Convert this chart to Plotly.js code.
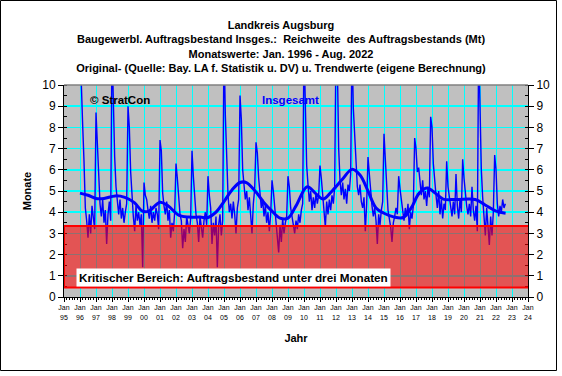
<!DOCTYPE html>
<html><head><meta charset="utf-8">
<script src="https://cdn.plot.ly/plotly-3.0.1.min.js"></script>
<style>html,body{margin:0;padding:0;background:#fff}#chart{width:562px;height:376px}</style>
</head><body><div id="chart"></div>
<script>
// Monthly values (Reichweite in Monaten), Jan 1996 - Aug 2022
const startYear = 1996;
const m1996 = [12.0, 9.6, 8.1, 6.4, 4.2, 3.6, 2.8, 3.9, 3.0, 4.3, 3.8, 3.2];
const m1997 = [8.7, 7.3, 6.0, 4.4, 3.8, 4.6, 3.5, 4.1, 2.5, 3.9, 4.5, 3.6];
const m1998 = [12.0, 9.2, 6.6, 5.2, 4.3, 3.9, 4.6, 3.7, 4.2, 3.5, 4.0, 4.4];
const m1999 = [9.0, 8.0, 5.9, 4.5, 3.8, 3.1, 4.3, 3.6, 4.0, 3.4, 3.9, 1.4];
const m2000 = [5.4, 4.8, 4.6, 4.1, 3.7, 4.3, 3.5, 4.0, 3.6, 4.2, 3.9, 3.2];
const m2001 = [7.4, 6.9, 4.9, 4.3, 3.9, 4.5, 3.6, 4.1, 2.8, 3.5, 3.1, 4.0];
const m2002 = [6.3, 5.6, 4.5, 3.9, 3.6, 2.3, 3.2, 2.6, 3.8, 3.4, 3.0, 3.7];
const m2003 = [6.9, 5.7, 4.6, 3.9, 3.5, 2.6, 3.8, 3.3, 2.8, 3.6, 4.0, 3.4];
const m2004 = [5.7, 4.8, 4.2, 2.5, 3.5, 2.9, 3.8, 1.4, 3.4, 3.9, 2.9, 3.6];
const m2005 = [12.0, 8.6, 6.2, 4.8, 4.0, 4.4, 3.7, 4.5, 3.9, 3.0, 4.2, 4.6];
const m2006 = [9.5, 8.4, 6.0, 5.2, 4.6, 5.0, 4.1, 4.7, 3.8, 3.0, 4.4, 5.1];
const m2007 = [7.3, 6.8, 5.6, 4.8, 4.2, 4.6, 3.8, 4.3, 3.5, 4.0, 3.1, 3.9];
const m2008 = [5.5, 5.0, 4.3, 3.6, 3.1, 2.1, 3.4, 2.6, 3.7, 3.0, 3.5, 3.8];
const m2009 = [5.7, 5.2, 4.2, 3.8, 3.4, 3.0, 3.6, 3.2, 3.9, 3.5, 4.1, 4.4];
const m2010 = [12.0, 9.6, 6.2, 5.3, 4.5, 5.0, 4.1, 4.7, 4.2, 4.9, 4.4, 4.8];
const m2011 = [6.2, 5.6, 4.8, 4.3, 3.3, 4.5, 3.9, 4.6, 4.1, 4.8, 4.4, 5.2];
const m2012 = [12.0, 11.0, 7.0, 5.5, 4.8, 5.4, 4.6, 5.1, 4.4, 5.3, 5.0, 5.8];
const m2013 = [12.0, 8.9, 7.5, 6.0, 5.2, 4.8, 5.3, 4.5, 4.2, 4.7, 3.1, 4.4];
const m2014 = [6.6, 5.8, 4.9, 4.3, 3.8, 4.2, 3.6, 2.5, 3.9, 3.4, 4.1, 4.5];
const m2015 = [7.7, 6.5, 4.8, 4.1, 3.7, 3.3, 2.6, 3.5, 3.8, 4.2, 3.9, 5.7];
const m2016 = [5.1, 4.6, 3.9, 3.6, 4.2, 3.8, 4.4, 3.2, 4.0, 3.7, 4.3, 7.5];
const m2017 = [7.0, 5.9, 6.1, 5.2, 4.8, 5.5, 4.6, 5.0, 4.3, 5.2, 4.7, 8.5];
const m2018 = [8.0, 6.3, 5.4, 4.8, 4.2, 5.0, 3.9, 4.6, 3.7, 4.4, 4.1, 6.4];
const m2019 = [5.2, 4.8, 4.2, 3.8, 4.5, 3.9, 5.8, 4.3, 3.7, 4.6, 4.0, 6.5];
const m2020 = [5.6, 4.9, 4.3, 3.9, 4.4, 3.8, 5.2, 4.1, 3.6, 4.3, 3.1, 12.0];
const m2021 = [8.6, 6.0, 4.7, 3.9, 2.9, 4.2, 3.5, 2.45, 3.8, 2.9, 4.0, 6.7];
const m2022 = [6.0, 4.4, 3.8, 4.3, 4.0, 4.6, 4.2, 4.4];

// Trend values (decimal year, months)
const trendYear = [1996.0, 1996.5, 1997.0, 1997.5, 1998.2, 1998.8, 1999.4, 1999.9, 2000.3, 2001.0,
  2001.5, 2002.2, 2002.8, 2003.5, 2004.0, 2004.5, 2005.0, 2005.5, 2006.0, 2006.4,
  2007.0, 2007.5, 2008.0, 2008.5, 2009.0, 2009.5, 2010.2, 2010.7, 2011.2, 2011.7,
  2012.4, 2013.0, 2013.5, 2014.0, 2014.5, 2015.0, 2015.6, 2016.2, 2016.7, 2017.2,
  2017.7, 2018.2, 2018.7, 2019.5, 2020.7, 2021.3, 2022.0, 2022.6];
const trendVal = [4.9, 4.8, 4.65, 4.65, 4.77, 4.7, 4.45, 4.05, 4.05, 4.47,
  4.3, 3.85, 3.77, 3.77, 3.75, 4.0, 4.5, 5.05, 5.4, 5.4,
  4.95, 4.45, 4.05, 3.72, 3.72, 4.3, 5.2, 4.9, 4.62, 4.95,
  5.55, 6.02, 5.75, 5.0, 4.2, 3.95, 3.78, 3.75, 4.2, 4.9,
  5.14, 4.9, 4.62, 4.6, 4.6, 4.35, 4.05, 3.95];

const tickYears = [1995,1996,1997,1998,1999,2000,2001,2002,2003,2004,2005,2006,2007,2008,2009,
  2010,2011,2012,2013,2014,2015,2016,2017,2018,2019,2020,2021,2022,2023,2024];
const tickText = tickYears.map(y => 'Jan<br>' + String(y % 100).padStart(2, '0'));
const yTicks = [0,1,2,3,4,5,6,7,8,9,10];

const critLow = 0.45, critHigh = 3.35;

const monthly = [].concat(m1996,m1997,m1998,m1999,m2000,m2001,m2002,m2003,m2004,m2005,m2006,
  m2007,m2008,m2009,m2010,m2011,m2012,m2013,m2014,m2015,m2016,m2017,m2018,m2019,m2020,m2021,m2022);
const monthX = monthly.map((_, i) => startYear + i / 12);

const F = 'Arial, "Liberation Sans", sans-serif';

const data = [
  {x: monthX, y: monthly, type: 'scatter', mode: 'lines', line: {color: '#0000ff', width: 1.4}, hoverinfo: 'skip'},
  {x: trendYear, y: trendVal, type: 'scatter', mode: 'lines', line: {color: '#0000ff', width: 3, shape: 'spline', smoothing: 1}, hoverinfo: 'skip'},
  {x: [1995], y: [0], yaxis: 'y2', type: 'scatter', mode: 'markers', marker: {opacity: 0}, hoverinfo: 'skip'}
];

const layout = {
  width: 562, height: 376,
  margin: {l: 64, r: 34, t: 85, b: 79},
  paper_bgcolor: '#ffffff', plot_bgcolor: '#c0c0c0',
  showlegend: false,
  font: {family: F, size: 11, color: '#000'},
  title: {
    text: '<b>Landkreis Augsburg</b><br><b>Baugewerbl. Auftragsbestand Insges.:  Reichweite  des Auftragsbestands (Mt)</b><br><b>Monatswerte: Jan. 1996 - Aug. 2022</b><br><b>Original- (Quelle: Bay. LA f. Statistik u. DV) u. Trendwerte (eigene Berechnung)</b>',
    font: {family: F, size: 11, color: '#000'},
    x: 0.5, xref: 'container', xanchor: 'center',
    y: 1 - 29/376, yref: 'container', yanchor: 'top'
  },
  xaxis: {
    range: [1995, 2024], tickmode: 'array', tickvals: tickYears, ticktext: tickText,
    tickfont: {family: F, size: 7, color: '#000000'},
    showgrid: true, gridcolor: '#00ffff', gridwidth: 1,
    showline: true, linecolor: '#000', linewidth: 1,
    ticks: 'outside', ticklen: 4, tickcolor: '#000',
    minor: {dtick: 1/6, ticklen: 2, tickcolor: '#000', ticks: 'outside', showgrid: false},
    zeroline: false, fixedrange: true,
    title: {text: '<b>Jahr</b>', font: {family: F, size: 11, color: '#000'}, standoff: 14}
  },
  yaxis: {
    range: [0, 10], tickmode: 'array', tickvals: yTicks,
    tickfont: {family: F, size: 12, color: '#000'},
    showgrid: true, gridcolor: '#00ffff', gridwidth: 1.5,
    showline: true, linecolor: '#000', linewidth: 1,
    ticks: 'outside', ticklen: 5, tickcolor: '#000',
    minor: {dtick: 0.5, ticklen: 3, ticks: 'inside', tickcolor: '#000', showgrid: false},
    zeroline: false, fixedrange: true,
    title: {text: '<b>Monate</b>', font: {family: F, size: 11, color: '#000'}, standoff: 8}
  },
  yaxis2: {
    range: [0, 10], overlaying: 'y', side: 'right', tickmode: 'array', tickvals: yTicks,
    tickfont: {family: F, size: 12, color: '#000'},
    showgrid: false, showline: true, linecolor: '#000', linewidth: 1,
    ticks: 'outside', ticklen: 5, tickcolor: '#000',
    minor: {dtick: 0.5, ticklen: 3, ticks: 'inside', tickcolor: '#000', showgrid: false},
    zeroline: false, fixedrange: true
  },
  shapes: [
    {type: 'line', xref: 'paper', yref: 'paper', x0: 0, x1: 1, y0: 1, y1: 1, line: {color: '#808080', width: 1.5}},
    {type: 'rect', xref: 'x', yref: 'y', x0: 1995, x1: 2024.06, y0: critLow, y1: critHigh,
     fillcolor: 'rgba(255,0,0,0.56)', line: {color: '#ff0000', width: 2}, layer: 'above'},
    {type: 'rect', xref: 'paper', yref: 'paper', x0: (0.5-64)/464, x1: (556.5-64)/464, y0: (297-370.5)/212, y1: (297-0.5)/212,
     line: {color: '#000', width: 1}, fillcolor: 'rgba(0,0,0,0)', layer: 'below'}
  ],
  annotations: [
    {text: '<b>© StratCon</b>', xref: 'paper', yref: 'paper', x: (88-64)/464, y: (297-100)/212, xanchor: 'left', yanchor: 'middle', showarrow: false, font: {family: F, size: 11.5, color: '#000'}},
    {text: '<b>Insgesamt</b>', xref: 'paper', yref: 'paper', x: (260-64)/464, y: (297-100)/212, xanchor: 'left', yanchor: 'middle', showarrow: false, font: {family: F, size: 11.5, color: '#0000ff'}},
    {text: '<b>Kritischer Bereich: Auftragsbestand unter drei Monaten</b>', xref: 'paper', yref: 'paper', x: (76-64)/464, y: (297-277.5)/212, xanchor: 'left', yanchor: 'middle', showarrow: false, bgcolor: '#ffffff', borderpad: 2, font: {family: F, size: 11.7, color: '#000'}}
  ]
};

Plotly.newPlot('chart', data, layout, {staticPlot: true, displayModeBar: false});
</script>
</body></html>
